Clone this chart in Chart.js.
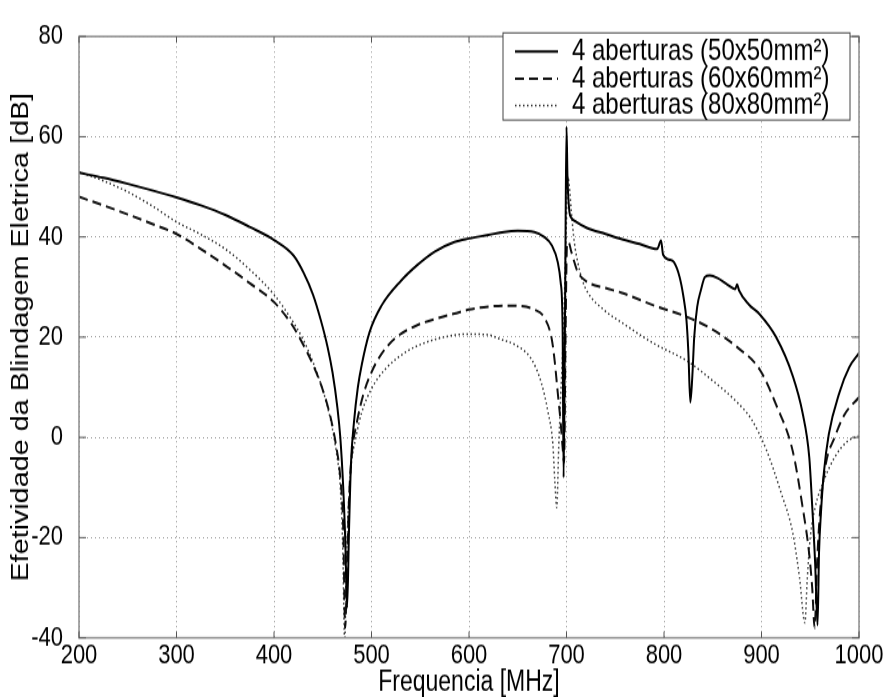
<!DOCTYPE html>
<html>
<head>
<meta charset="utf-8">
<title>Efetividade da Blindagem Eletrica</title>
<script src="https://cdn.jsdelivr.net/npm/chart.js@4.4.1/dist/chart.umd.min.js"></script>
<style>
  html, body { margin: 0; padding: 0; background: #fff; }
  canvas { display: block; }
</style>
</head>
<body>
<!-- the reference is stretched vertically (~1.25x), so draw at 888x558 and let css stretch it -->
<canvas id="chart" width="888" height="558" style="width:888px;height:697px"></canvas>
<script>
// 4 aberturas (50x50mm²)
var freq50 = [200, 225, 250, 275, 300, 325, 350, 375, 400, 420, 430, 440, 448, 455, 460,
  465, 468, 471, 473, 475, 477, 479, 482, 486, 490, 498, 510, 530, 547, 565,
  585, 600, 620, 636, 650, 667, 677, 685, 691, 694, 696, 697, 698, 699, 700,
  701, 703, 705, 710, 721, 740, 756, 775, 793, 797, 799, 805, 810, 816, 820,
  823, 825, 827, 829, 831, 834, 838, 842, 847, 855, 865, 873, 875, 877, 887,
  898, 915, 932, 942, 949, 952, 955, 957.5, 959, 961, 964, 969, 980, 990, 1000];
var se50 = [52.8, 51.8, 50.6, 49.3, 47.9, 46.3, 44.4, 42.0, 39.4, 36.3, 33, 28.5, 23.4, 18, 13,
  6, 0, -10, -20, -34, -18, -5, 3, 10, 14.5, 21, 26.2, 31.2, 34.4, 37.1,
  39, 39.7, 40.4, 41, 41.2, 41, 40, 38.3, 35, 31, 22, -8, 10, 40, 62,
  52, 45, 43.8, 43, 41.8, 40.6, 39.6, 38.6, 37.6, 39.3, 36.5, 35.5, 35, 32, 28,
  23.5, 17, 7, 12, 20, 26, 29.5, 32, 32.3, 31.8, 30.5, 29.6, 30.5, 29.3, 26.5,
  24.6, 20, 12.3, 5, -4, -13.7, -25, -37.5, -23, -15, -7, 0.6, 9, 14, 16.8];

// 4 aberturas (60x60mm²)
var freq60 = [200, 225, 250, 275, 300, 325, 350, 375, 400, 418, 430, 440, 450, 458, 464,
  468, 471, 473, 475, 477, 480, 485, 492, 500, 510, 525, 547, 570, 585, 600,
  620, 636, 653, 667, 677, 685, 688, 691, 694, 696, 697.5, 699, 700.5, 702, 705,
  708, 711.5, 721.5, 740, 756, 790, 824, 850, 875, 898, 915, 932, 942, 949, 952,
  954.5, 957, 960, 966, 975, 985, 1000];
var se60 = [48, 46.3, 44.5, 42.6, 40.6, 37.6, 34.3, 30.8, 27, 22.6, 18.5, 14.5, 9.5, 4, -2,
  -8, -18, -38, -25, -12, -3, 3, 8.8, 13, 16.6, 19.9, 22.4, 23.9, 24.7, 25.5,
  26.1, 26.3, 26.2, 25.5, 24, 19.5, 15, 9, 3, -2, -5, 20, 38.3, 39, 37,
  35, 33, 31, 29.8, 28.9, 26.3, 24, 21.5, 18, 13.6, 6.5, -2.7, -13.7, -23.4, -30,
  -38, -25, -15, -5.3, 0, 4.5, 8];

// 4 aberturas (80x80mm²)
var freq80 = [200, 225, 250, 275, 300, 325, 350, 375, 400, 418, 430, 440, 450, 458, 464,
  468, 470.5, 472.5, 474, 476, 479, 484, 490, 500, 515, 535, 555, 585, 600, 619,
  632, 647, 664, 674, 681, 686, 688, 690, 692, 694, 697, 699.5, 701.5, 703, 705,
  708, 711.5, 716, 721.5, 738.6, 756, 790, 824, 850, 875, 890, 905, 920, 932, 939,
  944.5, 947, 950, 955, 964, 975, 988, 1000];
var se80 = [53, 51.2, 49, 46.2, 43, 40.5, 37.6, 33.5, 28.5, 23.5, 19.5, 15, 9.5, 3.5, -3,
  -10, -22, -41, -28, -15, -6, 0, 5, 9.7, 13.8, 17, 18.9, 20.4, 20.6, 20.5,
  19.6, 18.5, 15.6, 11, 5.1, -1.4, -8.6, -14, -2, 8, 22, 40, 52, 50, 45,
  39, 35, 31.5, 29, 25.4, 23, 18.7, 15.2, 11.3, 7, 3.5, -2.5, -11, -19, -28,
  -37, -28, -20, -14, -8.6, -4, -0.8, 0.3];

var seriesLabels = ["4 aberturas (50x50mm²)", "4 aberturas (60x60mm²)", "4 aberturas (80x80mm²)"];
var xTicks = [200, 300, 400, 500, 600, 700, 800, 900, 1000];
var yTicks = [-40, -20, 0, 20, 40, 60, 80];

var fontFamily = '"Liberation Sans", Arial, Helvetica, sans-serif';

function pairs(xs, ys) {
  return xs.map(function (x, i) {
    return { x: x, y: ys[i] };
  });
}

// box, inner tick marks and the matlab style legend inside the axes
var framePlugin = {
  id: "frame",
  beforeDraw: function (chart) {
    var ctx = chart.ctx;
    ctx.save();
    ctx.fillStyle = "#fff";
    ctx.fillRect(0, 0, chart.width, chart.height);
    ctx.restore();
  },
  afterDatasetsDraw: function (chart) {
    var ctx = chart.ctx;
    var a = chart.chartArea;
    var xs = chart.scales.x;
    var ys = chart.scales.y;

    function line(x1, y1, x2, y2) {
      ctx.beginPath();
      ctx.moveTo(x1, y1);
      ctx.lineTo(x2, y2);
      ctx.stroke();
    }

    ctx.save();
    ctx.strokeStyle = "#8c8c8c";
    ctx.lineWidth = 1.5;
    ctx.strokeRect(a.left, a.top, a.right - a.left, a.bottom - a.top);

    ctx.strokeStyle = "#555";
    ctx.lineWidth = 1;
    xTicks.forEach(function (v) {
      var px = xs.getPixelForValue(v);
      line(px, a.bottom, px, a.bottom - 5);
      line(px, a.top, px, a.top + 5);
    });
    yTicks.forEach(function (v) {
      var py = ys.getPixelForValue(v);
      line(a.left, py, a.left + 7, py);
      line(a.right, py, a.right - 7, py);
    });

    // legend
    var lx = 503, ly = 26.3, lw = 347, lh = 69.8;
    ctx.fillStyle = "#fff";
    ctx.fillRect(lx, ly, lw, lh);
    ctx.strokeStyle = "#444";
    ctx.lineWidth = 1;
    ctx.strokeRect(lx, ly, lw, lh);

    chart.data.datasets.forEach(function (ds, i) {
      var yy = 41.3 + i * 21.6;
      ctx.strokeStyle = ds.borderColor;
      ctx.lineWidth = ds.borderWidth;
      ctx.setLineDash(ds.borderDash || []);
      line(515, yy, 558, yy);
      ctx.setLineDash([]);
      ctx.fillStyle = "#000";
      ctx.font = "24px " + fontFamily;
      ctx.textBaseline = "middle";
      ctx.textAlign = "left";
      ctx.fillText(ds.label, 572, yy);
    });
    ctx.restore();
  },
};

var chartOptions = {
  responsive: false,
  animation: false,
  devicePixelRatio: 1,
  events: [],
  layout: {
    padding: { top: 18.8, right: 29, left: 0, bottom: 0 },
  },
  elements: {
    point: { radius: 0 },
    line: { cubicInterpolationMode: "monotone" },
  },
  plugins: {
    legend: { display: false },
    tooltip: { enabled: false },
  },
  scales: {
    x: {
      type: "linear",
      min: 200,
      max: 1000,
      afterBuildTicks: function (scale) {
        scale.ticks = xTicks.map(function (v) {
          return { value: v };
        });
      },
      afterFit: function (scale) {
        scale.height = 47.4;
      },
      ticks: {
        color: "#000",
        padding: 1,
        maxRotation: 0,
        autoSkip: false,
        font: { family: fontFamily, size: 22 },
        callback: function (v) {
          return String(v);
        },
      },
      grid: { color: "#9a9a9a", lineWidth: 1, drawTicks: false },
      border: { display: false, dash: [1, 3] },
      title: {
        display: true,
        text: "Frequencia [MHz]",
        color: "#000",
        padding: 0,
        font: { family: fontFamily, size: 23, lineHeight: 1 },
      },
    },
    y: {
      type: "linear",
      min: -40,
      max: 80,
      afterBuildTicks: function (scale) {
        scale.ticks = yTicks.map(function (v) {
          return { value: v };
        });
      },
      afterFit: function (scale) {
        scale.width = 79;
      },
      ticks: {
        color: "#000",
        padding: 16,
        font: { family: fontFamily, size: 22 },
        callback: function (v) {
          return String(v);
        },
      },
      grid: { color: "#9a9a9a", lineWidth: 1, drawTicks: false },
      border: { display: false, dash: [1, 3] },
      title: {
        display: true,
        text: "Efetividade da Blindagem Eletrica [dB]",
        color: "#000",
        padding: { top: 8, bottom: 0 },
        font: { family: fontFamily, size: 23 },
      },
    },
  },
};

new Chart(document.getElementById("chart"), {
  type: "line",
  data: {
    datasets: [
      {
        label: seriesLabels[0],
        data: pairs(freq50, se50),
        borderColor: "#000",
        borderWidth: 2,
        borderDash: [],
      },
      {
        label: seriesLabels[1],
        data: pairs(freq60, se60),
        borderColor: "#111",
        borderWidth: 2,
        borderDash: [9, 5],
      },
      {
        label: seriesLabels[2],
        data: pairs(freq80, se80),
        borderColor: "#333",
        borderWidth: 1.5,
        borderDash: [1.5, 2.5],
      },
    ],
  },
  options: chartOptions,
  plugins: [framePlugin],
});
</script>
</body>
</html>
